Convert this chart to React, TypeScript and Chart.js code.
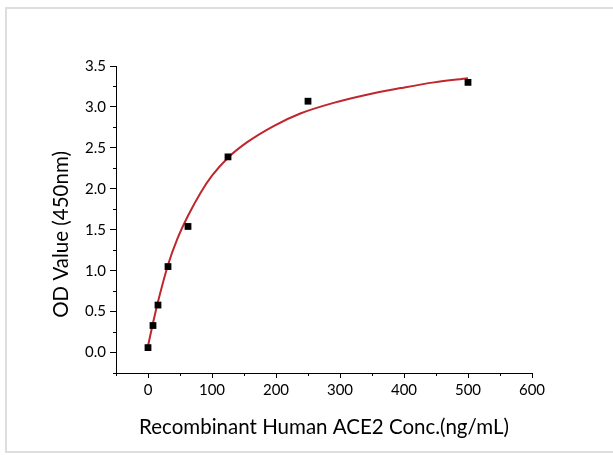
import React, { useEffect, useRef } from "react";
import { Chart, registerables } from "chart.js";

Chart.register(...registerables);

const concentrations = [0, 7.8, 15.6, 31.25, 62.5, 125, 250, 500];
const odValues = [0.06, 0.33, 0.58, 1.05, 1.54, 2.39, 3.07, 3.3];

const fitX = [0, 7.8, 15.6, 31.25, 46, 62.5, 82, 100, 125, 155, 197, 238, 290, 342, 395, 447, 500];
const fitY = [0.08, 0.36, 0.62, 1.07, 1.39, 1.67, 1.95, 2.16, 2.38, 2.57, 2.77, 2.92, 3.05, 3.15, 3.23, 3.3, 3.35];

const xTitle = "Recombinant Human ACE2 Conc.(ng/mL)";
const yTitle = "OD Value (450nm)";
const xMinorTicks = [-50, 50, 150, 250, 350, 450, 550];
const yMinorTicks = [-0.25, 0.25, 0.75, 1.25, 1.75, 2.25, 2.75, 3.25];

const FONT = "Lato";

const decorPlugin = {
  id: "decor",
  afterDraw(chart: any) {
    const { ctx, chartArea, scales } = chart;
    ctx.save();
    ctx.strokeStyle = "#000";
    ctx.lineWidth = 1;
    ctx.beginPath();
    xMinorTicks.forEach((v) => {
      const px = Math.round(scales.x.getPixelForValue(v)) + 0.5;
      ctx.moveTo(px, chartArea.bottom);
      ctx.lineTo(px, chartArea.bottom + 3);
    });
    yMinorTicks.forEach((v) => {
      const py = Math.round(scales.y.getPixelForValue(v)) + 0.5;
      ctx.moveTo(chartArea.left, py);
      ctx.lineTo(chartArea.left - 3, py);
    });
    ctx.stroke();

    ctx.fillStyle = "#000";
    ctx.font = `20.5px ${FONT}`;
    ctx.textAlign = "center";
    ctx.textBaseline = "alphabetic";
    ctx.fillText(xTitle, (chartArea.left + chartArea.right) / 2, chartArea.bottom + 61);

    ctx.translate(chartArea.left - 48, (chartArea.top + chartArea.bottom) / 2 + 15);
    ctx.rotate(-Math.PI / 2);
    ctx.fillText(yTitle, 0, 0);
    ctx.restore();
  },
};

export default function App() {
  const ref = useRef<HTMLCanvasElement | null>(null);

  useEffect(() => {
    document.body.style.margin = "0";
    const canvas = ref.current;
    if (!canvas) return;
    const chart = new Chart(canvas, {
      type: "scatter",
      data: {
        datasets: [
          {
            label: "Fit",
            type: "line",
            data: fitX.map((x, i) => ({ x, y: fitY[i] })),
            borderColor: "#c0262d",
            borderWidth: 2,
            pointRadius: 0,
            cubicInterpolationMode: "monotone",
            fill: false,
            order: 2,
          } as any,
          {
            label: "Data",
            data: concentrations.map((x, i) => ({ x, y: odValues[i] })),
            backgroundColor: "#000",
            borderColor: "#000",
            borderWidth: 0,
            pointStyle: "rect",
            pointRadius: 4.8,
            order: 1,
          },
        ],
      },
      options: {
        animation: false,
        responsive: false,
        maintainAspectRatio: false,
        layout: { padding: { left: 0, top: 66, right: 81, bottom: 0 } },
        plugins: { legend: { display: false }, tooltip: { enabled: false } },
        scales: {
          x: {
            type: "linear",
            min: -50,
            max: 600,
            afterFit: (s: any) => {
              s.height = 82;
            },
            border: { display: true, color: "#000", width: 1 },
            grid: { drawOnChartArea: false, drawTicks: true, tickLength: 5, color: "#000", tickColor: "#000" },
            ticks: {
              stepSize: 100,
              includeBounds: false,
              color: "#000",
              padding: 3,
              font: { family: FONT, size: 15 },
              callback: (v: any) => String(v),
            },
          },
          y: {
            type: "linear",
            min: -0.25,
            max: 3.5,
            afterFit: (s: any) => {
              s.width = 116;
            },
            border: { display: true, color: "#000", width: 1 },
            grid: { drawOnChartArea: false, drawTicks: true, tickLength: 6, color: "#000", tickColor: "#000" },
            ticks: {
              stepSize: 0.5,
              includeBounds: false,
              color: "#000",
              padding: 4,
              font: { family: FONT, size: 15 },
              callback: (v: any) => Number(v).toFixed(1),
            },
          },
        },
      },
      plugins: [decorPlugin],
    });
    return () => chart.destroy();
  }, []);

  return (
    <div style={{ position: "relative", width: 613, height: 455, background: "#fff" }}>
      <div
        style={{
          position: "absolute",
          left: 5,
          top: 7,
          width: 608,
          height: 446,
          borderTop: "2px solid #dedede",
          borderLeft: "2px solid #dedede",
          borderBottom: "2px solid #dedede",
          boxSizing: "border-box",
        }}
      />
      <canvas ref={ref} width={613} height={455} style={{ position: "absolute", left: 0, top: 0, width: 613, height: 455 }} />
    </div>
  );
}
